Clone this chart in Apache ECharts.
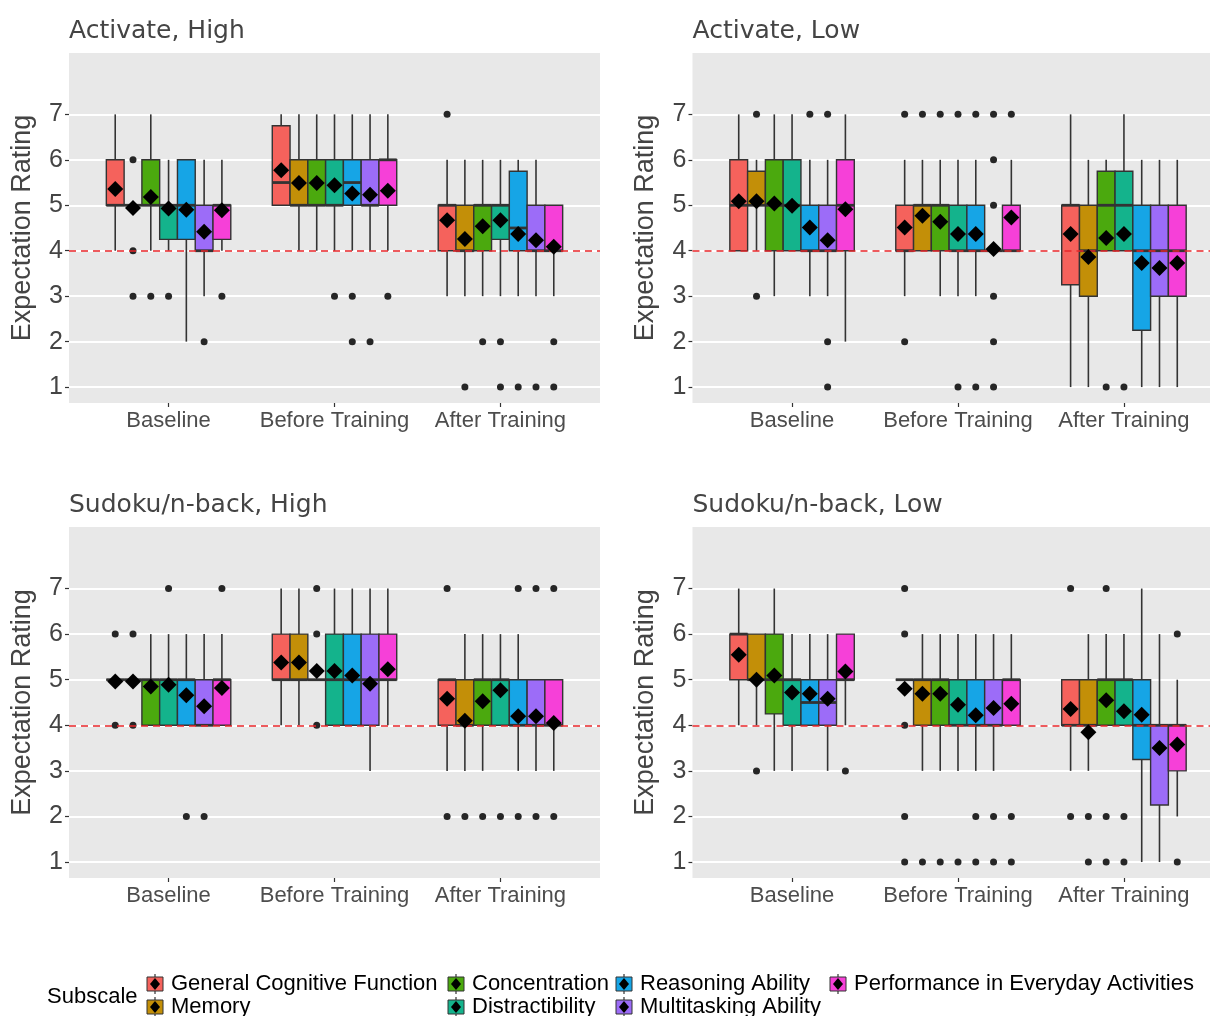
<!DOCTYPE html>
<html><head><meta charset="utf-8">
<script src="https://cdn.jsdelivr.net/npm/echarts@6/dist/echarts.min.js"></script>
<style>html,body{margin:0;padding:0;background:#fff}#c{width:1210px;height:1016px}</style>
</head><body><div id="c"></div>
<script>
// ---------------- data ----------------
const groups = ['Baseline', 'Before Training', 'After Training'];
const subscales = ['General Cognitive Function', 'Memory', 'Concentration', 'Distractibility',
  'Reasoning Ability', 'Multitasking Ability', 'Performance in Everyday Activities'];
const panelTitles = ['Activate, High', 'Activate, Low', 'Sudoku/n-back, High', 'Sudoku/n-back, Low'];
const yTicks = [1, 2, 3, 4, 5, 6, 7];
const refLine = 4;

// box stats per group x subscale: [lower whisker, Q1, median, Q3, upper whisker]
const boxActivateHigh = [
  [[4,5,5,6,7],[5,5,5,5,5],[4,5,5,6,7],[4,4.25,5,5,6],[2,4.25,5,6,6],[3,4,4,5,6],[4,4.25,5,5,6]],
  [[5,5,5.5,6.75,7],[4,5,5,6,7],[4,5,5,6,7],[4,5,5,6,7],[4,5,5.5,6,7],[4,5,5,6,7],[4,5,6,6,7]],
  [[3,4,5,5,6],[3,4,4,5,6],[3,4,5,5,6],[3,4.25,5,5,6],[3,4,4.5,5.75,6],[3,4,4,5,6],[3,4,4,5,5]]
];
const meanActivateHigh = [
  [5.36,4.94,5.18,4.93,4.90,4.42,4.89],
  [5.77,5.49,5.49,5.44,5.26,5.23,5.32],
  [4.67,4.26,4.54,4.67,4.37,4.23,4.09]
];
const outActivateHigh = [
  [[],[6,4,3],[3],[3],[],[2],[3]],
  [[],[],[],[3],[3,2],[2],[3]],
  [[7],[1],[2],[2,1],[1],[1],[2,1]]
];

const boxActivateLow = [
  [[4,4,5,6,7],[4,5,5,5.75,6],[3,4,5,6,7],[4,4,5,6,7],[3,4,4,5,6],[3,4,4,5,6],[2,4,5,6,7]],
  [[3,4,4,5,6],[4,4,5,5,6],[3,4,5,5,6],[3,4,4,5,6],[3,4,4,5,6],[4,4,4,4,4],[4,4,4,5,6]],
  [[1,3.25,5,5,7],[1,3,4,5,6],[4,4,5,5.75,6],[4,4,5,5.75,7],[1,2.25,4,5,6],[1,3,4,5,6],[1,3,4,5,6]]
];
const meanActivateLow = [
  [5.09,5.09,5.04,4.99,4.51,4.23,4.91],
  [4.51,4.77,4.64,4.37,4.37,4.04,4.73],
  [4.37,3.86,4.28,4.37,3.73,3.62,3.73]
];
const outActivateLow = [
  [[],[7,3],[],[],[7],[7,2,1],[]],
  [[7,2],[7],[7],[7,1],[7,1],[7,6,5,3,2,1],[7]],
  [[],[],[1],[1],[],[],[]]
];

const boxSudokuHigh = [
  [[5,5,5,5,5],[5,5,5,5,5],[4,4,5,5,6],[4,4,5,5,6],[4,4,5,5,6],[4,4,4,5,6],[4,4,5,5,6]],
  [[4,5,5,6,7],[4,5,5,6,7],[5,5,5,5,5],[4,4,5,6,7],[4,4,5,6,7],[3,4,5,6,7],[4,5,5,6,7]],
  [[3,4,5,5,5],[3,4,4,5,6],[3,4,5,5,6],[4,4,5,5,6],[3,4,4,5,6],[3,4,4,5,5],[3,4,4,5,5]]
];
const meanSudokuHigh = [
  [4.96,4.96,4.85,4.89,4.66,4.42,4.82],
  [5.38,5.38,5.19,5.19,5.09,4.91,5.23],
  [4.58,4.10,4.53,4.77,4.20,4.20,4.05]
];
const outSudokuHigh = [
  [[6,4],[6,4],[],[7],[2],[2],[7]],
  [[],[],[7,6,4],[],[],[],[]],
  [[7,2],[2],[2],[2],[7,2],[7,2],[7,2]]
];

const boxSudokuLow = [
  [[4,5,6,6,7],[4,5,5,6,6],[3,4.25,5,6,7],[3,4,5,5,6],[4,4,4.5,5,6],[3,4,4.5,5,6],[4,5,5,6,6]],
  [[5,5,5,5,5],[3,4,5,5,6],[3,4,5,5,6],[3,4,4,5,6],[3,4,4,5,6],[3,4,4,5,6],[4,4,5,5,6]],
  [[3,4,4,5,5],[3,4,4,5,6],[4,4,5,5,6],[4,4,5,5,6],[1,3.25,4,5,7],[1,2.25,4,4,6],[2,3,4,4,5]]
];
const meanSudokuLow = [
  [5.55,5.00,5.09,4.72,4.69,4.58,5.18],
  [4.80,4.69,4.69,4.45,4.22,4.38,4.47],
  [4.36,3.85,4.55,4.31,4.23,3.50,3.58]
];
const outSudokuLow = [
  [[],[3],[],[],[],[],[3]],
  [[7,6,4,2,1],[1],[1],[1],[2,1],[2,1],[2,1]],
  [[7,2],[2,1],[7,2,1],[2,1],[],[],[6,1]]
];

// ---------------- styles ----------------
const COLORS = ['#F5625C', '#C38F08', '#4BA90E', '#14B38C', '#16A5E6', '#9C6CF8', '#F640D8'];
const panelBoxes = [boxActivateHigh, boxActivateLow, boxSudokuHigh, boxSudokuLow];
const panelMeans = [meanActivateHigh, meanActivateLow, meanSudokuHigh, meanSudokuLow];
const panelOuts = [outActivateHigh, outActivateLow, outSudokuHigh, outSudokuLow];
const grids = [
  {left: 69, top: 53, width: 531, height: 350},
  {left: 692.5, top: 53, width: 531, height: 350},
  {left: 69, top: 527, width: 531, height: 351},
  {left: 692.5, top: 527, width: 531, height: 351}
];
const DODGE = 0.75, NSUB = subscales.length, BOXW = DODGE / NSUB;
const xPos = (g, s) => g + 1 + (s - (NSUB - 1) / 2) * BOXW;
const AX = 'Liberation Sans, Arial, sans-serif';
const STROKE = '#333333';

function renderBox(params, api) {
  const x = api.value(0), lo = api.value(1), q1 = api.value(2), md = api.value(3), q3 = api.value(4), hi = api.value(5);
  const color = COLORS[api.value(6)];
  const a = api.coord([x - BOXW / 2, q3]);
  const b = api.coord([x + BOXW / 2, q1]);
  const pLo = api.coord([x, lo]), pHi = api.coord([x, hi]), pQ1 = api.coord([x, q1]), pQ3 = api.coord([x, q3]);
  const m1 = api.coord([x - BOXW / 2, md]), m2 = api.coord([x + BOXW / 2, md]);
  return {type: 'group', children: [
    {type: 'line', shape: {x1: pHi[0], y1: pHi[1], x2: pQ3[0], y2: pQ3[1]}, style: {stroke: STROKE, lineWidth: 1.6}},
    {type: 'line', shape: {x1: pQ1[0], y1: pQ1[1], x2: pLo[0], y2: pLo[1]}, style: {stroke: STROKE, lineWidth: 1.6}},
    {type: 'rect', shape: {x: a[0], y: a[1], width: b[0] - a[0], height: b[1] - a[1]}, style: {fill: color, stroke: STROKE, lineWidth: 1.4}},
    {type: 'line', shape: {x1: m1[0], y1: m1[1], x2: m2[0], y2: m2[1]}, style: {stroke: STROKE, lineWidth: 2.8}}
  ]};
}

const xAxes = [], yAxes = [], series = [], titles = [];
grids.forEach((gr, p) => {
  titles.push({text: panelTitles[p], left: gr.left, top: gr.top - 34, padding: 0,
    textStyle: {fontFamily: 'DejaVu Sans', fontSize: 25, fontWeight: 'normal', color: '#444'}});
  xAxes.push({gridIndex: p, type: 'value', min: 0.4, max: 3.6,
    axisLine: {show: false}, splitLine: {show: false},
    axisTick: {show: true, length: 4, lineStyle: {color: STROKE, width: 1.2}, customValues: [1, 2, 3]},
    axisLabel: {customValues: [1, 2, 3], margin: 7, fontFamily: AX, fontSize: 22, color: '#4d4d4d',
      formatter: v => groups[Math.round(v) - 1] || ''}});
  yAxes.push({gridIndex: p, type: 'value', min: 0.65, max: 8.35,
    name: 'Expectation Rating', nameLocation: 'middle', nameGap: 33,
    nameTextStyle: {fontFamily: AX, fontSize: 27, color: '#444'},
    axisLine: {show: false}, splitLine: {show: false},
    axisTick: {show: true, length: 4, lineStyle: {color: STROKE, width: 1.2}, customValues: yTicks},
    axisLabel: {customValues: yTicks, margin: 6, fontFamily: AX, fontSize: 25, color: '#444'}});

  const boxData = [], outData = [], meanData = [];
  panelBoxes[p].forEach((row, g) => row.forEach((st, s) => {
    boxData.push([xPos(g, s), st[0], st[1], st[2], st[3], st[4], s]);
    meanData.push([xPos(g, s), panelMeans[p][g][s]]);
    panelOuts[p][g][s].forEach(v => outData.push([xPos(g, s), v]));
  }));
  series.push({type: 'custom', xAxisIndex: p, yAxisIndex: p, renderItem: renderBox, data: boxData,
    encode: {x: 0, y: [1, 2, 3, 4, 5]}, silent: true, z: 2,
    markLine: {silent: true, symbol: 'none', z: 1, animation: false, label: {show: false},
      lineStyle: {color: '#ffffff', width: 2, type: 'solid'}, emphasis: {disabled: true},
      data: yTicks.map(v => ({yAxis: v}))}});
  series.push({type: 'scatter', xAxisIndex: p, yAxisIndex: p, data: outData, symbol: 'circle', symbolSize: 7,
    itemStyle: {color: '#262626', opacity: 1}, silent: true, z: 3});
  series.push({type: 'scatter', xAxisIndex: p, yAxisIndex: p, data: meanData, symbol: 'diamond', symbolSize: 16,
    itemStyle: {color: '#000', opacity: 1}, silent: true, z: 5,
    markLine: {silent: true, symbol: 'none', z: 4, animation: false, label: {show: false},
      lineStyle: {color: '#E8262A', width: 1.7, type: [7, 5]}, emphasis: {disabled: true},
      data: [{yAxis: refLine}]}});
});

// legend (drawn as graphic: 2 rows filled column-wise)
const legendCols = [171, 472, 640, 854];
const legendRows = [984, 1007];
const graphics = [{type: 'text', left: 47, top: 986, style: {text: 'Subscale', font: '22px ' + AX, fill: '#000'}}];
subscales.forEach((name, i) => {
  const col = Math.floor(i / 2), row = i % 2;
  const tx = legendCols[col], cy = legendRows[row];
  const kx = tx - 24;
  graphics.push({type: 'line', shape: {x1: kx + 8, y1: cy - 10, x2: kx + 8, y2: cy + 10}, style: {stroke: STROKE, lineWidth: 1.2}});
  graphics.push({type: 'rect', shape: {x: kx, y: cy - 7, width: 16, height: 14}, style: {fill: COLORS[i], stroke: STROKE, lineWidth: 1}});
  graphics.push({type: 'polygon', shape: {points: [[kx + 8, cy - 6], [kx + 13, cy], [kx + 8, cy + 6], [kx + 3, cy]]}, style: {fill: '#000'}});
  graphics.push({type: 'text', x: tx, y: cy, style: {text: name, font: '22px ' + AX, fill: '#000', verticalAlign: 'middle'}});
});

const chart = echarts.init(document.getElementById('c'), null, {renderer: 'canvas'});
chart.setOption({
  animation: false,
  backgroundColor: '#ffffff',
  title: titles,
  grid: grids.map(g => Object.assign({show: true, backgroundColor: '#E8E8E8', borderWidth: 0, containLabel: false, outerBoundsMode: 'none'}, g)),
  xAxis: xAxes,
  yAxis: yAxes,
  series: series,
  graphic: graphics
});
</script>
</body></html>
